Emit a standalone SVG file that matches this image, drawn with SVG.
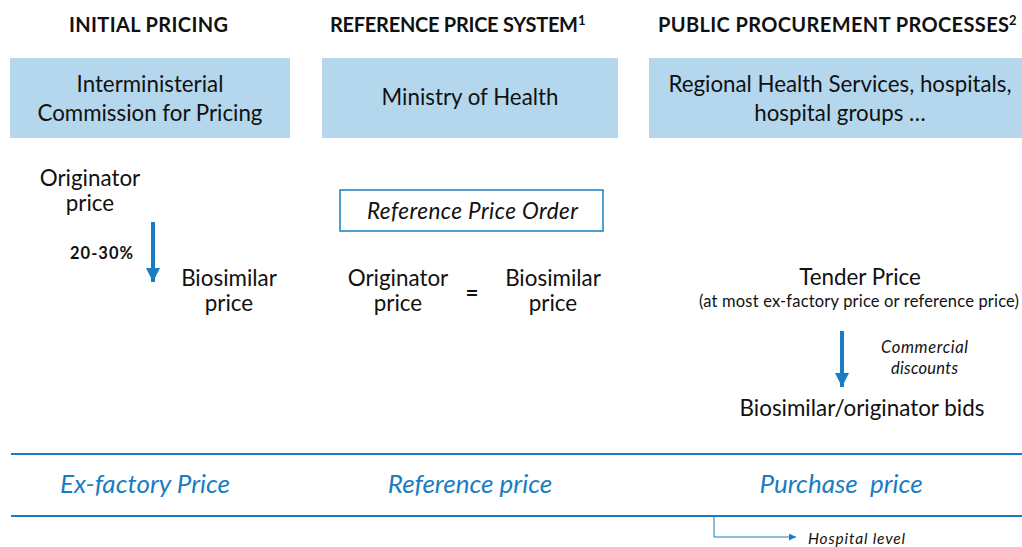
<svg xmlns="http://www.w3.org/2000/svg" width="1022" height="547" viewBox="0 0 1022 547">
  <style>
    text { font-family: Lato, "Open Sans", "Liberation Sans", sans-serif; fill: #111; }
    .head { font-size: 20px; font-weight: bold; }
    .sup { font-size: 13px; font-weight: bold; }
    .box { fill: #B4D7EE; }
    .boxtxt { font-size: 22.3px; text-anchor: middle; }
    .lbl { font-size: 22.4px; text-anchor: middle; }
    .ital { font-style: italic; }
    .band { font-size: 26px; font-style: italic; fill: #1A7DC4; text-anchor: middle; }
    .rule { stroke: #1A7DC4; stroke-width: 2; }
    .flow { stroke: #1A7DC4; stroke-width: 4; fill: none; }
    .thin { stroke: #1A7DC4; stroke-width: 1; fill: none; }
  </style>
  <defs>
    <marker id="bigHead" viewBox="0 0 10 10" refX="10" refY="5" markerWidth="3.5" markerHeight="3.5" markerUnits="strokeWidth" orient="auto">
      <path d="M0,0 L10,5 L0,10 Z" fill="#1A7DC4"/>
    </marker>
    <marker id="smallHead" viewBox="0 0 10 10" refX="10" refY="5" markerWidth="7" markerHeight="7" markerUnits="strokeWidth" orient="auto">
      <path d="M0,0 L10,5 L0,10 Z" fill="#1A7DC4"/>
    </marker>
  </defs>

  <!-- column headers -->
  <g id="headers">
    <text class="head" x="69" y="32" textLength="159">INITIAL PRICING</text>
    <text class="head" x="330" y="32" textLength="248">REFERENCE PRICE SYSTEM</text>
    <text class="sup" x="578" y="25">1</text>
    <text class="head" x="658" y="32" textLength="351">PUBLIC PROCUREMENT PROCESSES</text>
    <text class="sup" x="1009" y="25">2</text>
  </g>

  <!-- authorities -->
  <g id="commission">
    <rect class="box" x="10" y="58" width="280" height="80"/>
    <text class="boxtxt" x="150" y="92">Interministerial</text>
    <text class="boxtxt" x="150" y="121">Commission for Pricing</text>
  </g>
  <g id="ministry">
    <rect class="box" x="322" y="58" width="296" height="80"/>
    <text class="boxtxt" x="470" y="105">Ministry of Health</text>
  </g>
  <g id="regional">
    <rect class="box" x="649" y="58" width="373" height="80"/>
    <text class="boxtxt" x="840" y="92">Regional Health Services, hospitals,</text>
    <text class="boxtxt" x="840" y="121">hospital groups …</text>
  </g>

  <!-- initial pricing column -->
  <g id="originator-initial">
    <text class="lbl" x="90" y="186">Originator</text>
    <text class="lbl" x="90" y="211">price</text>
  </g>
  <g id="discount-label">
    <text x="70" y="259" font-size="16.5" font-weight="bold" textLength="63">20-30%</text>
  </g>
  <g id="biosimilar-initial">
    <text class="lbl" x="229" y="286">Biosimilar</text>
    <text class="lbl" x="229" y="311">price</text>
  </g>

  <!-- reference price column -->
  <g id="reference-order">
    <rect x="340" y="190" width="263" height="41" fill="#fff" stroke="#1A7DC4" stroke-width="1.5"/>
    <text class="ital" x="367" y="219" font-size="22.5" textLength="211">Reference Price Order</text>
  </g>
  <g id="originator-reference">
    <text class="lbl" x="398" y="286">Originator</text>
    <text class="lbl" x="398" y="311">price</text>
  </g>
  <g id="equals">
    <text class="lbl" x="472" y="301" font-weight="bold">=</text>
  </g>
  <g id="biosimilar-reference">
    <text class="lbl" x="553" y="286">Biosimilar</text>
    <text class="lbl" x="553" y="311">price</text>
  </g>

  <!-- procurement column -->
  <g id="tender">
    <text class="lbl" x="860" y="285">Tender Price</text>
    <text x="699" y="307" font-size="16.5" textLength="320">(at most ex-factory price or reference price)</text>
  </g>
  <g id="commercial">
    <text class="ital" x="881" y="353" font-size="16.5" textLength="87">Commercial</text>
    <text class="ital" x="891" y="374" font-size="16.5" textLength="67">discounts</text>
  </g>
  <g id="bids">
    <text class="lbl" x="862" y="416">Biosimilar/originator bids</text>
  </g>

  <!-- price bands -->
  <g id="bands">
    <line class="rule" x1="11" y1="454" x2="1022" y2="454"/>
    <line class="rule" x1="11" y1="516" x2="1022" y2="516"/>
    <text class="band" x="145" y="493">Ex-factory Price</text>
    <text class="band" x="470" y="493">Reference price</text>
    <text class="band" x="841" y="493" xml:space="preserve">Purchase  price</text>
  </g>
  <g id="hospital-level">
    <text x="808" y="544" font-size="15.5" font-style="italic" fill="#8A8A8A" textLength="97">Hospital level</text>
  </g>

  <!-- connectors -->
  <g id="connectors">
    <line class="flow" x1="153" y1="222" x2="153" y2="282" marker-end="url(#bigHead)"/>
    <line class="flow" x1="842" y1="331" x2="842" y2="387" marker-end="url(#bigHead)"/>
    <polyline class="thin" points="714,517 714,537 796,537" marker-end="url(#smallHead)"/>
  </g>
</svg>
